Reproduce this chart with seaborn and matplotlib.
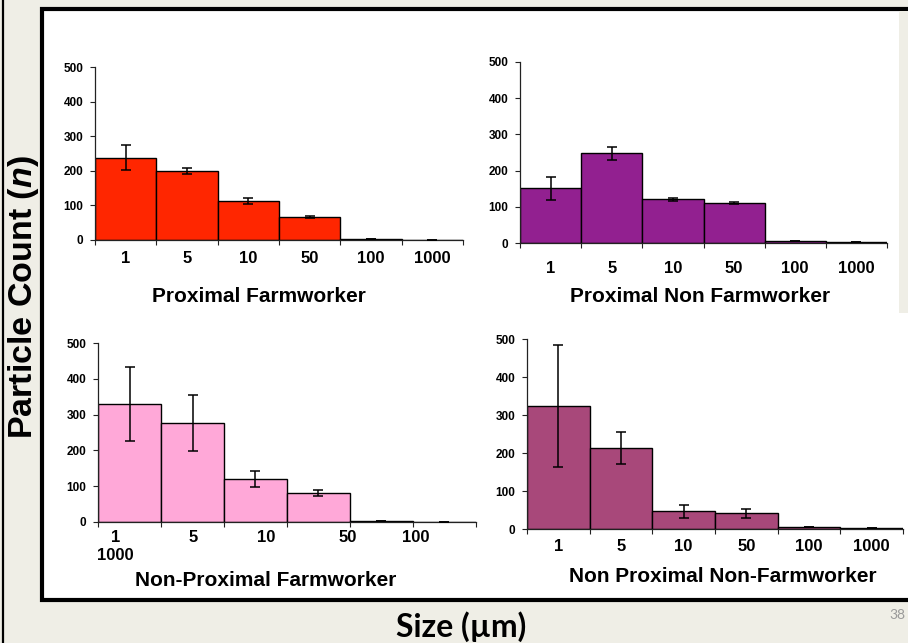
import numpy as np
import pandas as pd
import matplotlib
matplotlib.use("Agg")
import matplotlib.pyplot as plt
import seaborn as sns
from matplotlib.patches import Rectangle
from matplotlib.lines import Line2D

# ---------------- data ----------------
sizes = ["1", "5", "10", "50", "100", "1000"]

prox_farm = [238, 200, 112, 66, 2, 1]
prox_farm_err = [36, 8, 8, 2, 0, 0]

prox_nonfarm = [151, 248, 121, 111, 5, 2]
prox_nonfarm_err = [31, 18, 4, 3, 0, 0]

nonprox_farm = [330, 276, 120, 80, 2, 1]
nonprox_farm_err = [103, 79, 22, 8, 0, 0]

nonprox_nonfarm = [324, 213, 47, 41, 4, 2]
nonprox_nonfarm_err = [160, 41, 17, 11, 0, 0]

titles = ["Proximal Farmworker", "Proximal Non Farmworker",
          "Non-Proximal Farmworker", "Non Proximal Non-Farmworker"]
colors = ["#FF2600", "#922090", "#FFA8D8", "#A8487A"]
yticks = [0, 100, 200, 300, 400, 500]

# ---------------- style ----------------
sns.set_style("ticks")
plt.rcParams["font.family"] = ["Liberation Sans", "DejaVu Sans"]
plt.rcParams["font.weight"] = "bold"
plt.rcParams["text.color"] = "black"
plt.rcParams["xtick.color"] = "black"
plt.rcParams["ytick.color"] = "black"
plt.rcParams["xtick.labelcolor"] = "black"
plt.rcParams["ytick.labelcolor"] = "black"
plt.rcParams["mathtext.fontset"] = "custom"
plt.rcParams["mathtext.rm"] = "Liberation Sans:bold"
plt.rcParams["mathtext.bf"] = "Liberation Sans:bold"
plt.rcParams["mathtext.it"] = "Liberation Sans:bold:italic"

W, H = 908, 643
fig = plt.figure(figsize=(W / 100, H / 100), dpi=100)
fig.patch.set_facecolor("#EFEEE6")


def fx(px):
    return px / W


def fy(py):
    return 1 - py / H


# slide decorations
fig.add_artist(Line2D([fx(3), fx(3)], [0, 1], transform=fig.transFigure,
                      color="black", lw=1.6, zorder=-6))
fig.add_artist(Rectangle((fx(42), fy(600)), 1.2, fy(9) - fy(600),
                         transform=fig.transFigure, facecolor="white",
                         edgecolor="black", lw=3.0, zorder=-5))
fig.add_artist(Rectangle((fx(899), fy(313)), fx(20), fy(11) - fy(313),
                         transform=fig.transFigure, facecolor="#EFEEE6",
                         edgecolor="none", zorder=-4))

# panel geometry in pixels: left, right, top(500), bottom(0)
geoms = [(95, 463, 67, 240), (520, 887, 62, 243),
         (98, 476, 343, 522), (527, 903, 339, 529)]
title_pos = [(259, 296), (700, 296), (266, 580), (723, 577)]
xpads = [8, 13, 6, 7]

values = [prox_farm, prox_nonfarm, nonprox_farm, nonprox_nonfarm]
errors = [prox_farm_err, prox_nonfarm_err, nonprox_farm_err, nonprox_nonfarm_err]

for i in range(4):
    l, r, t, b = geoms[i]
    ax = fig.add_axes([fx(l), fy(b), fx(r) - fx(l), fy(t) - fy(b)])
    ax.set_facecolor("none")
    df = pd.DataFrame({"size": sizes, "count": values[i]})
    sns.barplot(data=df, x="size", y="count", order=sizes, color=colors[i],
                saturation=1, width=1.0, edgecolor="black", linewidth=1.0,
                errorbar=None, ax=ax)
    xpos = np.arange(len(sizes))
    ax.errorbar(xpos, values[i], yerr=errors[i], fmt="none", ecolor="black",
                elinewidth=1.1, capsize=3.3, capthick=1.1, zorder=5)
    ax.set_xlim(-0.5, len(sizes) - 0.5)
    ax.set_ylim(0, 500)
    ax.set_yticks(yticks)
    ax.set_yticklabels([str(v) for v in yticks], fontsize=8.5, fontweight="bold",
                       color="black")
    # boundaries as major ticks, labels on minor ticks
    ax.set_xticks(np.arange(len(sizes) + 1) - 0.5)
    ax.set_xticklabels([""] * (len(sizes) + 1))
    if i == 2:
        lab_pos = [-0.22, 1.01, 2.17, 3.47, 4.55]
        labs = [sizes[0] + "\n" + sizes[5]] + sizes[1:5]
    else:
        lab_pos = list(xpos)
        labs = sizes
    ax.set_xticks(lab_pos, minor=True)
    ax.set_xticklabels(labs, minor=True, fontsize=12, fontweight="bold",
                       linespacing=1.25, va="top", color="black")
    ax.tick_params(axis="x", which="minor", length=0, pad=xpads[i])
    ax.tick_params(axis="x", which="major", length=3.5, width=0.8, direction="out",
                   color="#222222")
    ax.tick_params(axis="y", length=3.5, width=0.8, pad=5, color="#222222")
    ax.set_xlabel("")
    ax.set_ylabel("")
    for s in ["top", "right"]:
        ax.spines[s].set_visible(False)
    for s in ["left", "bottom"]:
        ax.spines[s].set_linewidth(0.9)
        ax.spines[s].set_color("#222222")
    tx, ty = title_pos[i]
    fig.text(fx(tx), fy(ty), titles[i], ha="center", va="center",
             fontsize=15, fontweight="bold", color="black")

fig.text(fx(24), fy(297), "Particle Count ($\\mathit{n}$)", rotation=90,
         ha="center", va="center", fontsize=24.5, fontweight="bold", color="black")
fig.text(fx(461), fy(627), "Size (µm)", ha="center", va="center",
         fontsize=23, fontweight="bold", family=["Lato", "DejaVu Sans"],
         color="black")
fig.text(fx(897), fy(615), "38", ha="center", va="center", fontsize=10,
         color="#9A9A9A", family=["Lato", "DejaVu Sans"], fontweight="normal")

fig.savefig("out.png", dpi=100, facecolor=fig.get_facecolor())
